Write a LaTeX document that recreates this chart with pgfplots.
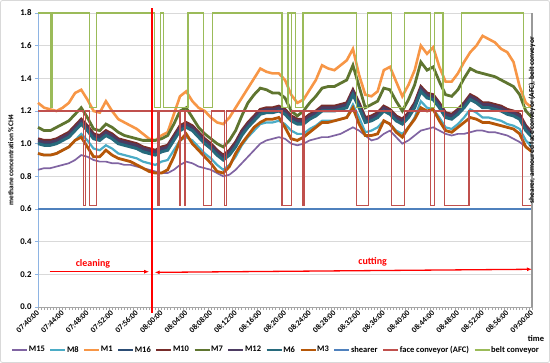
\documentclass[border=0pt]{standalone}
\usepackage{fontspec}
\setmainfont{Carlito}
\usepackage{pgfplots}
\usepackage{pgfplotstable}
\pgfplotsset{compat=1.18}
\usetikzlibrary{arrows.meta}
\definecolor{cM15}{HTML}{8064A2}
\definecolor{cM8}{HTML}{4BACC6}
\definecolor{cM1}{HTML}{F79646}
\definecolor{cM16}{HTML}{2C4D75}
\definecolor{cM10}{HTML}{772C2A}
\definecolor{cM7}{HTML}{5F7530}
\definecolor{cM12}{HTML}{4D3B62}
\definecolor{cM6}{HTML}{276A7C}
\definecolor{cM3}{HTML}{B65708}
\definecolor{cShearer}{HTML}{4F81BD}
\definecolor{cAFC}{HTML}{C0504D}
\definecolor{cBelt}{HTML}{9BBB59}
\definecolor{cGrid}{HTML}{D9D9D9}
\definecolor{cYaxis}{HTML}{8EB4E3}

\pgfplotstableread{
t M15 M8 M1 M16 M10 M7 M12 M6 M3
0 0.84 0.94 1.25 1.01 1.03 1.10 1.02 1.00 0.94
1 0.85 0.93 1.22 1.00 1.02 1.08 1.01 0.99 0.93
2 0.85 0.93 1.21 1.00 1.02 1.08 1.01 0.99 0.93
3 0.86 0.94 1.20 1.01 1.03 1.10 1.02 1.00 0.94
4 0.87 0.96 1.22 1.03 1.05 1.12 1.04 1.02 0.96
5 0.88 0.98 1.25 1.05 1.07 1.14 1.06 1.04 0.98
6 0.90 1.02 1.31 1.09 1.11 1.18 1.10 1.08 1.02
7 0.93 1.06 1.33 1.13 1.15 1.22 1.14 1.12 1.04
8 0.92 1.02 1.27 1.09 1.11 1.16 1.10 1.08 0.98
9 0.90 0.97 1.20 1.04 1.06 1.09 1.05 1.03 0.92
10 0.89 0.96 1.19 1.03 1.05 1.08 1.04 1.02 0.92
11 0.89 0.99 1.26 1.06 1.08 1.12 1.07 1.05 0.96
12 0.88 0.97 1.20 1.04 1.06 1.10 1.05 1.03 0.93
13 0.88 0.94 1.15 1.01 1.03 1.07 1.02 1.00 0.91
14 0.87 0.93 1.13 1.00 1.02 1.05 1.01 0.99 0.90
15 0.87 0.92 1.11 0.99 1.01 1.04 1.00 0.98 0.89
16 0.86 0.91 1.09 0.98 1.00 1.03 0.99 0.97 0.87
17 0.85 0.89 1.06 0.96 0.98 1.02 0.97 0.95 0.85
18 0.84 0.88 1.03 0.95 0.97 1.02 0.96 0.94 0.83
19 0.83 0.87 1.02 0.94 0.96 1.02 0.95 0.93 0.82
20 0.82 0.89 1.05 0.96 0.98 1.03 0.97 0.95 0.82
21 0.82 0.90 1.07 0.97 0.99 1.05 0.98 0.96 0.84
22 0.84 0.96 1.18 1.03 1.05 1.12 1.04 1.02 0.92
23 0.87 1.02 1.29 1.09 1.11 1.20 1.10 1.08 1.02
24 0.89 1.04 1.32 1.11 1.13 1.22 1.12 1.10 1.06
25 0.88 1.02 1.26 1.09 1.11 1.16 1.10 1.08 1.00
26 0.86 0.98 1.22 1.05 1.07 1.10 1.06 1.04 0.96
27 0.85 0.94 1.20 1.01 1.03 1.06 1.02 1.00 0.92
28 0.84 0.91 1.16 0.98 1.00 1.03 0.99 0.97 0.88
29 0.82 0.87 1.13 0.94 0.96 1.00 0.95 0.93 0.83
30 0.80 0.84 1.12 0.91 0.93 0.98 0.92 0.90 0.82
31 0.81 0.87 1.16 0.94 0.96 1.02 0.95 0.93 0.86
32 0.84 0.92 1.22 0.99 1.01 1.08 1.00 0.98 0.94
33 0.88 0.99 1.28 1.06 1.08 1.17 1.07 1.05 1.00
34 0.92 1.04 1.34 1.11 1.13 1.25 1.12 1.10 1.05
35 0.96 1.08 1.40 1.15 1.17 1.30 1.16 1.14 1.10
36 1.00 1.12 1.46 1.19 1.21 1.34 1.20 1.18 1.13
37 1.02 1.13 1.44 1.20 1.22 1.33 1.21 1.19 1.15
38 1.03 1.13 1.43 1.20 1.22 1.31 1.21 1.19 1.15
39 1.04 1.14 1.43 1.21 1.23 1.31 1.22 1.20 1.16
40 1.03 1.12 1.39 1.19 1.21 1.28 1.20 1.18 1.10
41 1.00 1.08 1.30 1.15 1.17 1.20 1.16 1.14 1.03
42 0.99 1.06 1.25 1.13 1.15 1.17 1.14 1.12 1.02
43 1.00 1.06 1.27 1.13 1.15 1.20 1.14 1.12 1.04
44 1.02 1.09 1.33 1.16 1.18 1.25 1.17 1.15 1.07
45 1.03 1.11 1.39 1.18 1.20 1.29 1.19 1.17 1.10
46 1.04 1.14 1.48 1.21 1.23 1.34 1.22 1.20 1.13
47 1.04 1.14 1.46 1.21 1.23 1.35 1.22 1.20 1.13
48 1.05 1.14 1.45 1.21 1.23 1.35 1.22 1.20 1.14
49 1.06 1.15 1.48 1.22 1.24 1.37 1.23 1.21 1.15
50 1.08 1.16 1.51 1.23 1.25 1.39 1.24 1.22 1.16
51 1.10 1.24 1.58 1.31 1.33 1.48 1.32 1.30 1.22
52 1.08 1.16 1.42 1.23 1.25 1.35 1.24 1.22 1.12
53 1.05 1.07 1.30 1.14 1.16 1.22 1.15 1.13 1.05
54 1.02 1.08 1.29 1.15 1.17 1.24 1.16 1.14 1.05
55 1.03 1.10 1.32 1.17 1.19 1.26 1.18 1.16 1.06
56 1.06 1.14 1.45 1.21 1.23 1.34 1.22 1.20 1.14
57 1.08 1.12 1.47 1.19 1.21 1.33 1.20 1.18 1.12
58 1.04 1.08 1.38 1.15 1.17 1.26 1.16 1.14 1.07
59 1.00 1.06 1.29 1.13 1.15 1.20 1.14 1.12 1.04
60 1.02 1.10 1.36 1.17 1.19 1.27 1.18 1.16 1.10
61 1.05 1.16 1.45 1.23 1.25 1.36 1.24 1.22 1.15
62 1.08 1.26 1.60 1.33 1.35 1.50 1.34 1.32 1.22
63 1.09 1.22 1.55 1.29 1.31 1.45 1.30 1.28 1.20
64 1.10 1.21 1.59 1.28 1.30 1.47 1.29 1.27 1.21
65 1.08 1.16 1.47 1.23 1.25 1.38 1.24 1.22 1.14
66 1.06 1.10 1.38 1.17 1.19 1.30 1.18 1.16 1.08
67 1.05 1.09 1.38 1.16 1.18 1.29 1.17 1.15 1.07
68 1.06 1.12 1.43 1.19 1.21 1.33 1.20 1.18 1.10
69 1.06 1.16 1.50 1.23 1.25 1.40 1.24 1.22 1.13
70 1.07 1.21 1.56 1.28 1.30 1.46 1.29 1.27 1.16
71 1.08 1.19 1.60 1.26 1.28 1.44 1.27 1.25 1.15
72 1.08 1.16 1.66 1.23 1.25 1.43 1.24 1.22 1.13
73 1.07 1.16 1.64 1.23 1.25 1.42 1.24 1.22 1.13
74 1.07 1.15 1.62 1.22 1.24 1.41 1.23 1.21 1.12
75 1.06 1.14 1.58 1.21 1.23 1.39 1.22 1.20 1.11
76 1.05 1.12 1.56 1.19 1.21 1.37 1.20 1.18 1.10
77 1.03 1.11 1.50 1.18 1.20 1.35 1.19 1.17 1.09
78 1.01 1.09 1.35 1.16 1.18 1.30 1.17 1.15 1.06
79 0.98 1.02 1.25 1.09 1.11 1.20 1.10 1.08 0.98
80 0.96 0.98 1.22 1.05 1.07 1.16 1.06 1.04 0.95
}\methane

\begin{document}
\begin{tikzpicture}
\path[use as bounding box] (0,0) rectangle (550bp,363bp);
\draw[gray!30, line width=0.8bp, rounded corners=2bp] (0.5bp,0.5bp) rectangle (549.5bp,362.5bp);
\begin{axis}[
  at={(38bp,56bp)}, anchor=south west,
  scale only axis, width=494bp, height=294bp,
  xmin=0, xmax=80, ymin=0, ymax=1.8,
  clip=false,
  axis x line*=bottom, axis y line*=left,
  x axis line style={draw=gray!70, line width=0.8bp},
  y axis line style={draw=cYaxis, line width=0.8bp},
  xtick={0,4,...,80},
  xticklabels={07:40:00,07:44:00,07:48:00,07:52:00,07:56:00,08:00:00,08:04:00,08:08:00,08:12:00,08:16:00,08:20:00,08:24:00,08:28:00,08:32:00,08:36:00,08:40:00,08:44:00,08:48:00,08:52:00,08:56:00,09:00:00},
  minor x tick num=7,
  xtick align=outside, ytick align=outside,
  major tick length=3bp, minor tick length=3bp,
  xtick style={gray!70, line width=0.6bp},
  minor tick style={gray!70, line width=0.6bp},
  ytick style={cYaxis, line width=0.6bp},
  ytick={0,0.2,...,1.81},
  ymajorgrids, major grid style={cGrid, line width=0.8bp},
  xticklabel style={rotate=45, anchor=east, font=\bfseries\fontsize{8}{9}\selectfont, inner sep=1bp, yshift=-1bp},
  yticklabel style={font=\bfseries\fontsize{8.8}{10}\selectfont, /pgf/number format/.cd, fixed, fixed zerofill, precision=1, assume math mode=true},
  ylabel={methane concentration \%CH4},
  ylabel style={font=\bfseries\fontsize{7.4}{9}\selectfont},
  legend columns=12,
  legend style={at={(0.481,-0.146)}, anchor=center, draw=none, fill=none,
    font=\bfseries\fontsize{8.5}{10}\selectfont, inner sep=0pt,
    nodes={inner sep=0.8bp},
    /tikz/every even column/.append style={column sep=4bp}},
  legend image code/.code={\draw[#1, line width=1.6bp] (0bp,0bp) -- (15bp,0bp);},
]
\addplot[cM15, line width=1.7bp] table[x=t,y=M15]{\methane};
\addlegendentry{M15}
\addplot[cM8, line width=2.2bp] table[x=t,y=M8]{\methane};
\addlegendentry{M8}
\addplot[cM1, line width=2.6bp] table[x=t,y=M1]{\methane};
\addlegendentry{M1}
\addplot[cM16, line width=2.8bp] table[x=t,y=M16]{\methane};
\addlegendentry{M16}
\addplot[cM10, line width=2.8bp] table[x=t,y=M10]{\methane};
\addlegendentry{M10}
\addplot[cM7, line width=2.8bp] table[x=t,y=M7]{\methane};
\addlegendentry{M7}
\addplot[cM12, line width=2.6bp] table[x=t,y=M12]{\methane};
\addlegendentry{M12}
\addplot[cM6, line width=3bp] table[x=t,y=M6]{\methane};
\addlegendentry{M6}
\addplot[cM3, line width=2.8bp] table[x=t,y=M3]{\methane};
\addlegendentry{M3}
\addplot[cShearer, line width=1.2bp] coordinates {(0,0.6) (80,0.6)};
\addlegendentry{shearer}
\addplot[cAFC, line width=1.2bp] coordinates {
(0,1.2) (7.4,1.2) (7.4,0.62) (7.7,0.62) (7.7,1.2) (8.3,1.2) (8.3,0.62) (9.5,0.62) (9.5,1.2)
(19.4,1.2) (19.4,0.62) (19.6,0.62) (19.6,1.2) (22.9,1.2) (22.9,0.62) (23.1,0.62) (23.1,1.2)
(23.7,1.2) (23.7,0.62) (23.9,0.62) (23.9,1.2) (26.8,1.2) (26.8,0.62) (28.1,0.62) (28.1,1.2)
(30.2,1.2) (30.2,0.62) (30.5,0.62) (30.5,1.2) (39.5,1.2) (39.5,0.62) (41.1,0.62) (41.1,1.2)
(42.9,1.2) (42.9,0.62) (43.1,0.62) (43.1,1.2) (51.6,1.2) (51.6,0.62) (53.5,0.62) (53.5,1.2)
(57.3,1.2) (57.3,0.62) (59.4,0.62) (59.4,1.2) (63.6,1.2) (63.6,0.62) (64.2,0.62) (64.2,1.2)
(65.8,1.2) (65.8,0.62) (69.8,0.62) (69.8,1.2) (78.4,1.2) (78.4,0.62) (80,0.62)};
\addlegendentry{face conveyor (AFC)}
\addplot[cBelt, line width=1.2bp] coordinates {
(0,1.8) (2.1,1.8) (2.1,1.22) (2.4,1.22) (2.4,1.8) (8.4,1.8) (8.4,1.22) (9.5,1.22) (9.5,1.8)
(18.9,1.8) (18.9,1.22) (19.8,1.22) (19.8,1.8) (20.3,1.8) (20.3,1.22) (24.3,1.22) (24.3,1.8)
(26.8,1.8) (26.8,1.22) (28.2,1.22) (28.2,1.8) (39.5,1.8) (39.5,1.22) (40.5,1.22) (40.5,1.8)
(41.0,1.8) (41.0,1.22) (41.1,1.22) (41.1,1.8) (41.7,1.8) (41.7,1.22) (42.9,1.22) (42.9,1.8)
(51.6,1.8) (51.6,1.22) (53.4,1.22) (53.4,1.8) (57.3,1.8) (57.3,1.22) (59.4,1.22) (59.4,1.8)
(63.6,1.8) (63.6,1.22) (64.2,1.22) (64.2,1.8) (65.6,1.8) (65.6,1.22) (68.6,1.22) (68.6,1.8)
(78.6,1.8) (78.6,1.22) (80,1.22)};
\addlegendentry{belt conveyor}
% right border
\draw[gray!80, line width=1.2bp] (rel axis cs:1,0) -- (rel axis cs:1,1);
% phase separator
\draw[red, line width=2.5bp] (axis cs:18.45,-0.035) -- (axis cs:18.45,1.83);
\draw[red, line width=1.3bp, -{Latex[length=5bp,width=4bp]}] (axis cs:1.9,0.216) -- (axis cs:18.0,0.216);
\draw[red, line width=1.3bp, {Latex[length=5bp,width=4bp]}-{Latex[length=5bp,width=4bp]}] (axis cs:18.9,0.212) -- (axis cs:80,0.231);
\node[red, font=\bfseries\fontsize{10}{12}\selectfont] at (axis cs:8.9,0.263) {cleaning};
\node[red, font=\bfseries\fontsize{10}{12}\selectfont] at (axis cs:54.2,0.277) {cutting};
\node[rotate=90, font=\bfseries\fontsize{7.5}{9}\selectfont] at (rel axis cs:1,0.605) [xshift=9bp] {shearer, armoured face conveyor (AFC), belt conveyor};
\node[font=\bfseries\fontsize{8.5}{10}\selectfont] at (rel axis cs:1,0) [xshift=4bp, yshift=-31.5bp] {time};
\end{axis}
\end{tikzpicture}
\end{document}
